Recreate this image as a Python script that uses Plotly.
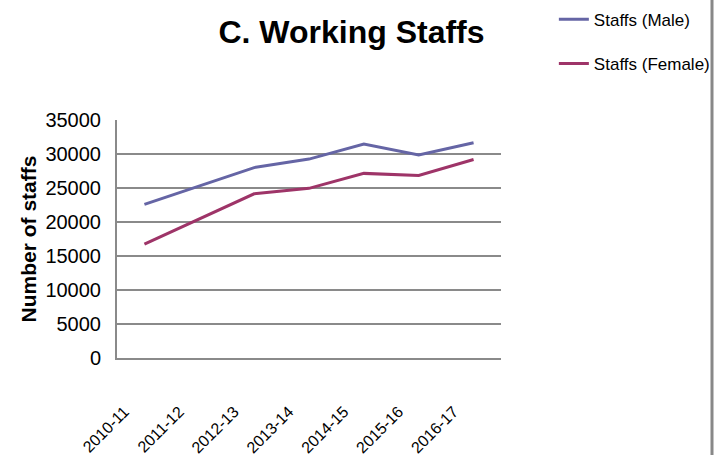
import plotly.graph_objects as go

years = ["2010-11", "2011-12", "2012-13", "2013-14", "2014-15", "2015-16", "2016-17"]
male = [22600, 25300, 28000, 29250, 31450, 29850, 31650]
female = [16750, 20500, 24150, 24950, 27150, 26850, 29200]
y_ticks = [0, 5000, 10000, 15000, 20000, 25000, 30000, 35000]

FONT = "Liberation Sans"

fig = go.Figure()
fig.add_trace(go.Scatter(x=years, y=male, mode="lines", name="Staffs (Male)",
                         legendgroup="m", line=dict(color="#6565A5", width=3)))
fig.add_trace(go.Scatter(x=years, y=female, mode="lines", name="Staffs (Female)",
                         legendgroup="f", line=dict(color="#9E3468", width=3)))

fig.update_layout(
    width=724, height=455,
    margin=dict(l=117, r=12, t=0, b=0, autoexpand=False),
    paper_bgcolor="white", plot_bgcolor="white",
    font=dict(family=FONT, color="black"),
    title=dict(text="<b>C. Working Staffs</b>", x=0.4855, xref="container", xanchor="center",
               y=0.93, yref="container", yanchor="middle",
               font=dict(family=FONT, size=32, color="black")),
    legend=dict(x=0.765, xref="container", xanchor="left", y=0.996, yref="container", yanchor="top",
                font=dict(family=FONT, size=17), traceorder="grouped",
                tracegroupgap=19, itemwidth=30, bgcolor="rgba(0,0,0,0)"),
    showlegend=True,
)
fig.update_yaxes(range=[0, 35000], tickvals=y_ticks, ticktext=[str(v) for v in y_ticks],
                 domain=[97 / 455, 335 / 455],
                 showgrid=True, gridcolor="#8a8a8a", gridwidth=1.5, automargin=False,
                 showline=True, linecolor="#8a8a8a", linewidth=2, zeroline=False,
                 tickfont=dict(family=FONT, size=20), ticks="", ticklabelstandoff=10,
                 title=dict(text="<b>Number of staffs</b>", font=dict(family=FONT, size=21), standoff=3))
fig.update_xaxes(type="category", range=[-0.5, 6.5], showgrid=False, automargin=False,
                 domain=[0, 384 / 595],
                 showline=True, linecolor="#8a8a8a", linewidth=2,
                 tickangle=-45, tickfont=dict(family=FONT, size=16), ticks="",
                 ticklabelstandoff=36, ticklabelshift=-20)

fig.add_shape(type="line", xref="paper", yref="paper", x0=1, x1=1, y0=0, y1=1,
              line=dict(color="#888888", width=3))

fig.write_html("out.html", config={"displayModeBar": False},
               post_script="document.body.style.margin='0';document.body.style.overflow='hidden';")
